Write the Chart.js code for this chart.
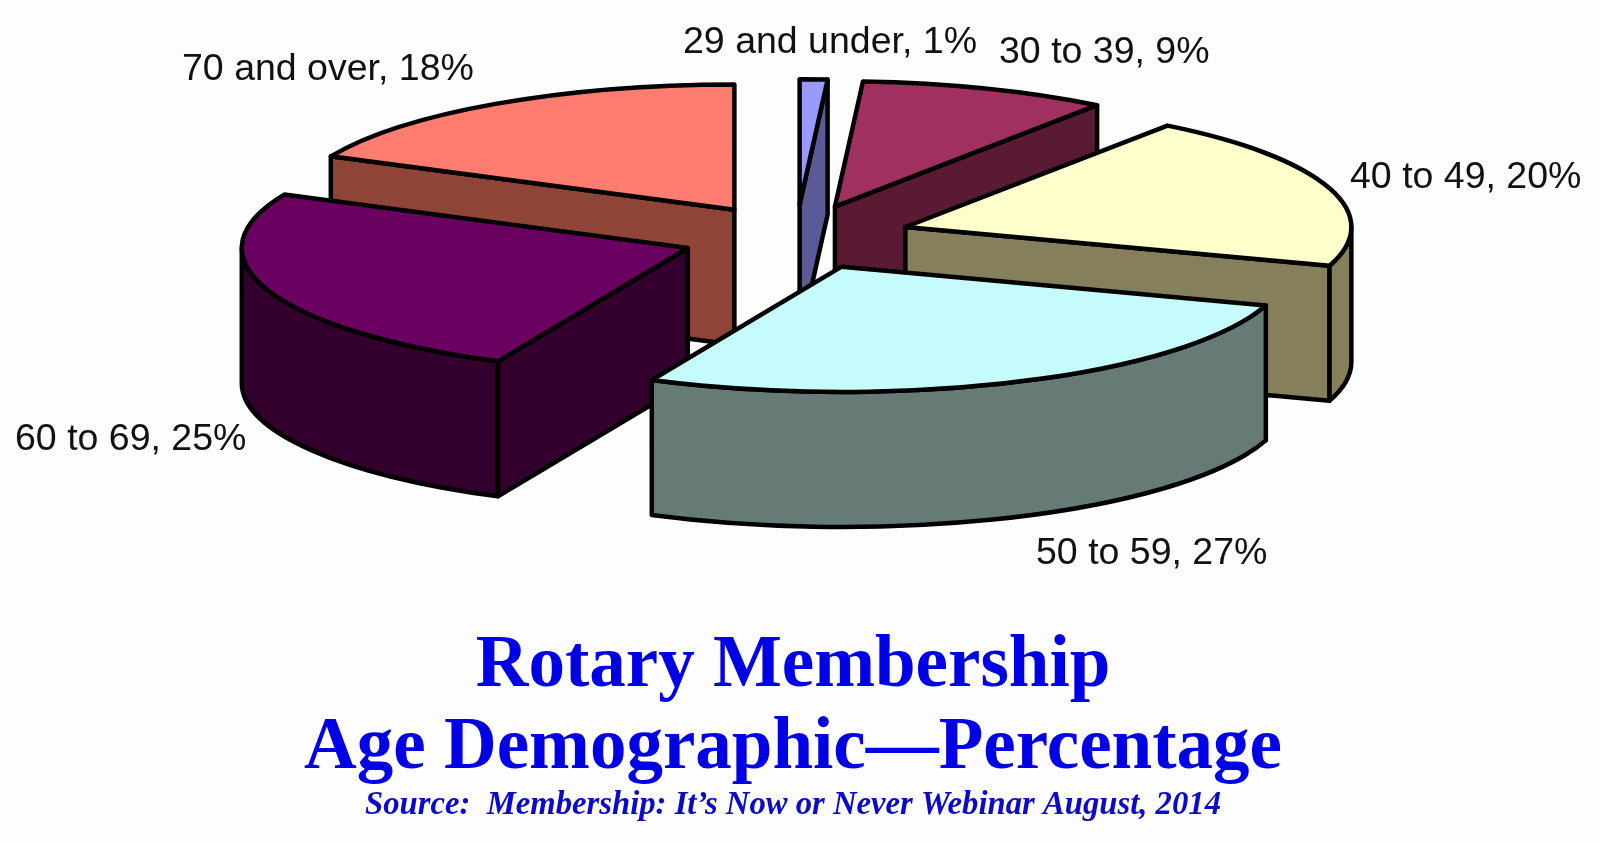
<!DOCTYPE html>
<html>
<head>
<meta charset="utf-8">
<style>
html,body{margin:0;padding:0;background:#fdfdfd;}
#wrap{width:1600px;height:843px;}
canvas{display:block;}
</style>
<script src="https://cdn.jsdelivr.net/npm/chart.js@4/dist/chart.umd.min.js"></script>
</head>
<body>
<div id="wrap"><canvas id="c" width="1600" height="843"></canvas></div>
<script>
const categories = ['29 and under','30 to 39','40 to 49','50 to 59','60 to 69','70 and over'];
const percentages = [1,9,20,27,25,18];
const topColors = ['#9999ff','#a03060','#ffffcc','#c6fbfb','#6a0060','#ff7c70'];
const wallColors = ['#5c5a96','#5a1a33','#857f5c','#667b75','#33002d','#8f4438'];
const titleLines = ['Rotary Membership','Age Demographic\u2014Percentage'];
const sourceLine = 'Source:  Membership: It\u2019s Now or Never Webinar August, 2014';
const labelLeft = [683,999,1350,1036,15,182];
const labelBaseline = [53,63,188,564,450,80];

const view = {cx:796, cy:237, radius:446, tilt:0.281, explode:115, depth:135, line:4.5};

const pie3d = {
  id:'pie3d',
  beforeDatasetDraw(chart, args){
    const ctx = chart.ctx, meta = chart.getDatasetMeta(args.index);
    const {cx,cy,tilt,explode,depth,line} = view;
    const items = meta.data.map((el,i)=>{
      const mid = (el.startAngle+el.endAngle)/2;
      return {el,i,ax:cx+explode*Math.cos(mid),ay:cy+tilt*explode*Math.sin(mid)};
    }).sort((a,b)=>a.ay-b.ay);
    ctx.save();
    ctx.lineWidth = line; ctx.lineJoin = 'round'; ctx.strokeStyle = '#000';
    items.forEach(({el,i,ax,ay})=>{
      const R = el.outerRadius, a0 = el.startAngle, a1 = el.endAngle;
      const rim = a=>[ax+R*Math.cos(a), ay+tilt*R*Math.sin(a)];
      ctx.fillStyle = wallColors[i];
      const wall = a=>{
        const [x,y] = rim(a);
        ctx.beginPath(); ctx.moveTo(ax,ay); ctx.lineTo(x,y);
        ctx.lineTo(x,y+depth); ctx.lineTo(ax,ay+depth); ctx.closePath();
        ctx.fill(); ctx.stroke();
      };
      if (Math.sin(a0-Math.PI/2)>0) wall(a0);
      if (Math.sin(a1+Math.PI/2)>0) wall(a1);
      // front-facing part of the curved rim: angles whose sine is positive
      const TAU = Math.PI*2;
      for (let k=-1;k<=1;k++){
        const lo = Math.max(a0,k*TAU), hi = Math.min(a1,k*TAU+Math.PI);
        if (hi>lo){
          ctx.beginPath();
          ctx.ellipse(ax,ay,R,tilt*R,0,lo,hi);
          ctx.ellipse(ax,ay+depth,R,tilt*R,0,hi,lo,true);
          ctx.closePath(); ctx.fill(); ctx.stroke();
        }
      }
      // top face: the library's own arc element, seen through the tilt
      ctx.save();
      ctx.translate(ax,ay); ctx.scale(1,tilt); ctx.translate(-el.x,-el.y);
      el.draw(ctx);
      ctx.restore();
      ctx.beginPath();
      ctx.moveTo(ax,ay);
      ctx.ellipse(ax,ay,R,tilt*R,0,a0,a1);
      ctx.closePath(); ctx.stroke();
    });
    ctx.restore();
    return false;
  },
  afterDatasetsDraw(chart){
    const ctx = chart.ctx;
    ctx.save();
    ctx.font = '37.5px "Liberation Sans", Arial, sans-serif';
    ctx.fillStyle = '#111'; ctx.textAlign='left'; ctx.textBaseline='alphabetic';
    categories.forEach((c,i)=>ctx.fillText(`${c}, ${percentages[i]}%`,labelLeft[i],labelBaseline[i]));
    ctx.restore();
  }
};

new Chart(document.getElementById('c'),{
  type:'pie',
  data:{labels:categories,datasets:[{data:percentages,backgroundColor:topColors,borderWidth:0}]},
  options:{
    responsive:false,animation:false,radius:view.radius,
    layout:{padding:{right:14}},
    plugins:{
      legend:{display:false},tooltip:{enabled:false},
      title:{display:true,position:'bottom',weight:1000,text:titleLines,color:'#0000e6',
        font:{family:'"Liberation Serif"',size:73,weight:'bold',lineHeight:1.13},padding:{top:0,bottom:-5}},
      subtitle:{display:true,position:'bottom',weight:3000,text:sourceLine,color:'#0a0ac8',
        font:{family:'"Liberation Serif"',size:32.7,weight:'bold',style:'italic',lineHeight:1.2},padding:{top:0,bottom:18}}
    }
  },
  plugins:[pie3d]
});
</script>
</body>
</html>
